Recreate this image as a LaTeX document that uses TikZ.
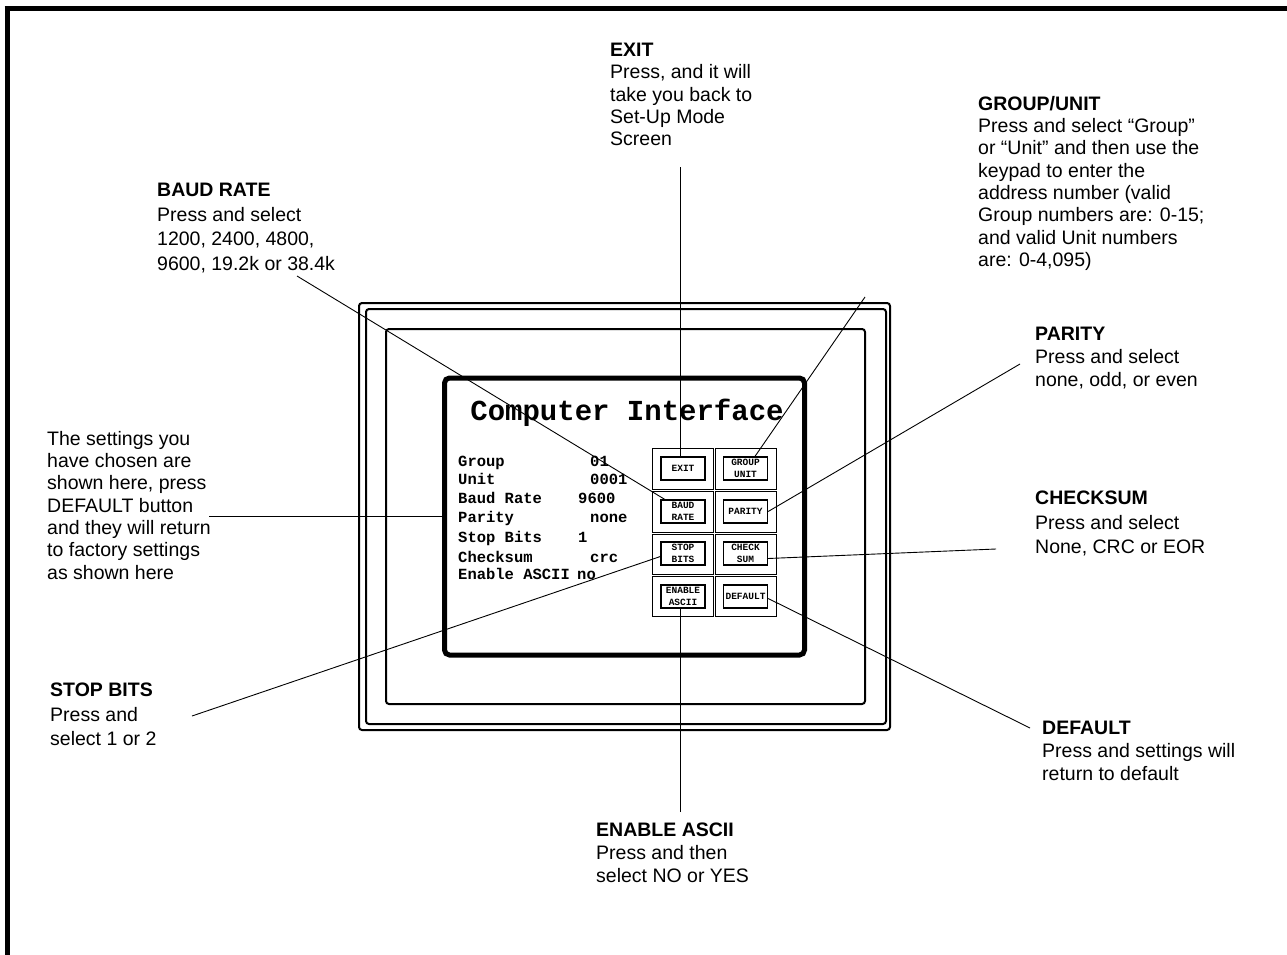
\documentclass[tikz,border=0pt]{standalone}
\usepackage{fontspec}
\setmainfont{Liberation Sans}
\newfontfamily\cour{Liberation Mono}
\usetikzlibrary{calc}
\begin{document}
\begin{tikzpicture}[x=1pt,y=-1pt,
  lbl/.style={anchor=north west, align=left, inner sep=0pt, font=\fontsize{19.5}{23}\selectfont},
  tight/.style={font=\fontsize{19.5}{22.3}\selectfont},
  loose/.style={font=\fontsize{19.5}{24.5}\selectfont},
  callout/.style={line width=0.9pt},
  bezel/.style={draw, line width=2pt, rounded corners=3pt},
  cell/.style={draw, line width=1pt},
  btn/.style={draw, line width=1.3pt, minimum width=44pt, minimum height=23pt, inner sep=0pt, align=center, font=\cour\bfseries\fontsize{9.5}{12.5}\selectfont},
  setk/.style={anchor=base west, inner sep=0pt, font=\cour\bfseries\fontsize{15.5}{19}\selectfont},
  pageline/.style={line width=5pt, line cap=butt}]
\useasboundingbox (0,0) rectangle (1287,955);
% page frame
\coordinate (fTL) at (7,8.5);
\coordinate (fTR) at (1287,8.5);
\coordinate (fBL) at (7,955);
\draw[pageline] (fBL) -- (fTL |- 0,6) ;
\draw[pageline] (4.5,8.5) -- (fTR);
% bezels
\draw[bezel] (359,303) rectangle (890,730);
\draw[bezel] (366,309) rectangle (886,724);
\draw[bezel] (386,329) rectangle (865,704);
% screen
\node[draw, line width=5pt, rounded corners=5pt, minimum width=360pt, minimum height=277pt, inner sep=0pt] (scr) at (624.5,516.5) {};
\node[anchor=base, inner sep=0pt, font=\cour\bfseries\fontsize{29}{29}\selectfont] (title) at (627,420) {Computer Interface};
% settings
\node[setk] (k1) at (458,466) {Group};
\node[setk] (k2) at (458,484) {Unit};
\node[setk] (k3) at (458,503) {Baud Rate};
\node[setk] (k4) at (458,522) {Parity};
\node[setk] (k5) at (458,542) {Stop Bits};
\node[setk] (k6) at (458,562) {Checksum};
\node[setk] (k7) at (458,579) {Enable ASCII};
\node[setk] (v1) at (590,466) {01};
\node[setk] (v2) at (590,484) {0001};
\node[setk] (v3) at (578,503) {9600};
\node[setk] (v4) at (590,522) {none};
\node[setk] (v5) at (578,542) {1};
\node[setk] (v6) at (590,562) {crc};
\node[setk] (v7) at (577,579) {no};
% button cells
\foreach \ya/\yb in {447/490,490/533,533/575,575/617}{
  \draw[cell] (652.5,\ya+1) rectangle (713,\yb-1);
  \draw[cell] (715,\ya+1) rectangle (776.5,\yb-1);
}
\node[btn] (bExit) at (683,468.5) {EXIT};
\node[btn] (bGroup) at (745.5,468.5) {GROUP\\UNIT};
\node[btn] (bBaud) at (683,511.5) {BAUD\\RATE};
\node[btn] (bParity) at (745.5,511.5) {PARITY};
\node[btn] (bStop) at (683,553.5) {STOP\\BITS};
\node[btn] (bCheck) at (745.5,553.5) {CHECK\\SUM};
\node[btn] (bAscii) at (683,596.5) {ENABLE\\ASCII};
\node[btn] (bDefault) at (745.5,596.5) {DEFAULT};
% labels
\node[lbl, tight] (lExit) at (610,43) {\textbf{EXIT}\\Press, and it will\\take you back to\\Set-Up Mode\\Screen};
\node[lbl, tight] (lGroup) at (978,96) {\textbf{GROUP/UNIT}\\Press and select “Group”\\or “Unit” and then use the\\keypad to enter the\\address number (valid\\Group numbers are: 0-15;\\and valid Unit numbers\\are: 0-4,095)};
\node[lbl, loose] (lBaud) at (157,183) {\textbf{BAUD RATE}\\Press and select\\1200, 2400, 4800,\\9600, 19.2k or 38.4k};
\node[lbl] (lParity) at (1035,327) {\textbf{PARITY}\\Press and select\\none, odd, or even};
\node[lbl, tight] (lSet) at (47,431) {The settings you\\have chosen are\\shown here, press\\DEFAULT button\\and they will return\\to factory settings\\as shown here};
\node[lbl, loose] (lCheck) at (1035,491) {\textbf{CHECKSUM}\\Press and select\\None, CRC or EOR};
\node[lbl, loose] (lStop) at (50,683) {\textbf{STOP BITS}\\Press and\\select 1 or 2};
\node[lbl] (lDefault) at (1042,721) {\textbf{DEFAULT}\\Press and settings will\\return to default};
\node[lbl] (lAscii) at (596,823) {\textbf{ENABLE ASCII}\\Press and then\\select NO or YES};
% callouts
\coordinate (cExit) at (680,167);
\coordinate (cGroup) at (865,297);
\coordinate (cBaud) at (297,276);
\coordinate (cParity) at (1020,364);
\coordinate (cCheck) at (996,549);
\coordinate (cDefault) at (1030,728);
\coordinate (cStop) at (192,716);
\coordinate (cAscii) at (680,812);
\coordinate (cSet) at (209,516);
\draw[callout] (cExit) -- (cExit |- bExit.north);
\draw[callout] (cGroup) -- ($(bGroup.north)+(9.5,0)$);
\draw[callout] (cBaud) -- ($(bBaud.north west)+(6,1)$);
\draw[callout] (cParity) -- (bParity.east);
\draw[callout] (cCheck) -- ($(bCheck.east)+(0,5)$);
\draw[callout] (cDefault) -- ($(bDefault.east)+(0,2)$);
\draw[callout] (cStop) -- ($(bStop.west)+(0,3)$);
\draw[callout] (cAscii) -- (cAscii |- bAscii.south);
\draw[callout] (cSet) -- (cSet -| scr.west);
\end{tikzpicture}
\end{document}
